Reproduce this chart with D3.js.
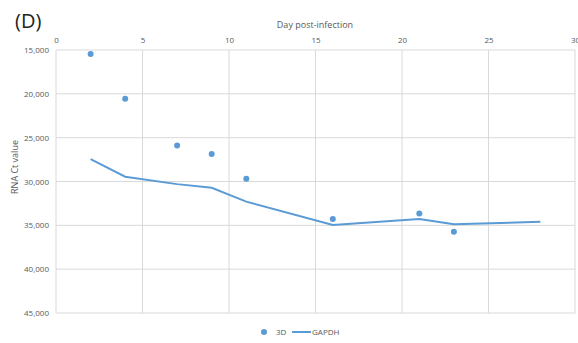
<!DOCTYPE html>
<html>
<head>
<meta charset="utf-8">
<script src="https://cdn.jsdelivr.net/npm/d3@7"></script>
<style>
  body { margin: 0; background: #fff; }
  text { font-family: "Open Sans", sans-serif; }
</style>
</head>
<body>
<div id="chart"></div>
<script>
/*
 * Data
 */
const days3D = [2, 4, 7, 9, 11, 16, 21, 23]
const ct3D = [15.45, 20.55, 25.9, 26.85, 29.7, 34.27, 33.66, 35.72]

const daysGAPDH = [2, 4, 7, 9, 11, 16, 21, 23, 28]
const ctGAPDH = [27.45, 29.45, 30.3, 30.72, 32.3, 34.97, 34.27, 34.88, 34.6]

const xTicks = [0, 5, 10, 15, 20, 25, 30]
const yTicks = [15, 20, 25, 30, 35, 40, 45]
const yTickLabels = ['15,000', '20,000', '25,000', '30,000', '35,000', '40,000', '45,000']

const w = 578
const h = 343
const blue = '#5b9bd5'
const grid = '#d9d9d9'
const tickColor = '#595959'

const svg = d3.select('#chart')
  .append('svg')
  .attr('width', w)
  .attr('height', h)

const x = d3.scaleLinear().domain([0, 30]).range([56, 575])
const y = d3.scaleLinear().domain([15, 45]).range([50, 313])

// gridlines
svg.append('g')
  .selectAll('line')
  .data(xTicks)
  .enter()
  .append('line')
  .attr('x1', d => x(d)).attr('x2', d => x(d))
  .attr('y1', y(15)).attr('y2', y(45))
  .style('stroke', grid)
  .style('stroke-width', 1)

svg.append('g')
  .selectAll('line')
  .data(yTicks)
  .enter()
  .append('line')
  .attr('x1', x(0)).attr('x2', x(30))
  .attr('y1', d => y(d)).attr('y2', d => y(d))
  .style('stroke', grid)
  .style('stroke-width', 1)

// axes labels
const xAxis = svg.append('g')
  .attr('transform', `translate(0,${y(15)})`)
  .call(d3.axisTop(x).tickValues(xTicks).tickSize(0).tickPadding(7))
xAxis.select('.domain').remove()
xAxis.selectAll('text')
  .style('font-size', '8px')
  .style('fill', tickColor)
  .style('font-family', '"Open Sans", sans-serif')

const yAxis = svg.append('g')
  .attr('transform', `translate(${x(0)},0)`)
  .call(d3.axisLeft(y).tickValues(yTicks).tickSize(0).tickPadding(7)
    .tickFormat((d, i) => yTickLabels[i]))
yAxis.select('.domain').remove()
yAxis.selectAll('text')
  .style('font-size', '8px')
  .style('fill', tickColor)
  .style('font-family', '"Open Sans", sans-serif')

// titles
svg.append('text')
  .attr('x', 15).attr('y', 28)
  .style('font-size', '20px')
  .style('fill', '#222')
  .text('(D)')

svg.append('text')
  .attr('x', 315).attr('y', 28)
  .attr('text-anchor', 'middle')
  .style('font-size', '9px')
  .style('fill', tickColor)
  .text('Day post-infection')

svg.append('text')
  .attr('transform', 'translate(18,167) rotate(-90)')
  .attr('text-anchor', 'middle')
  .style('font-size', '9px')
  .style('fill', tickColor)
  .text('RNA Ct value')

// GAPDH line
const gapdh = daysGAPDH.map((d, i) => ({ day: d, ct: ctGAPDH[i] }))
const line = d3.line().x(d => x(d.day)).y(d => y(d.ct))

svg.append('path')
  .datum(gapdh)
  .attr('d', line)
  .style('fill', 'none')
  .style('stroke', blue)
  .style('stroke-width', 2)

// 3D points
svg.append('g')
  .selectAll('circle')
  .data(days3D.map((d, i) => ({ day: d, ct: ct3D[i] })))
  .enter()
  .append('circle')
  .attr('cx', d => x(d.day))
  .attr('cy', d => y(d.ct))
  .attr('r', 3)
  .style('fill', blue)

// legend
const legend = svg.append('g').attr('transform', 'translate(0,332)')
legend.append('circle').attr('cx', 264).attr('cy', 0).attr('r', 3).style('fill', blue)
legend.append('text').attr('x', 276).attr('y', 3)
  .style('font-size', '8px').style('fill', tickColor).text('3D')
legend.append('line').attr('x1', 292).attr('x2', 311).attr('y1', 0).attr('y2', 0)
  .style('stroke', blue).style('stroke-width', 2)
legend.append('text').attr('x', 312).attr('y', 3)
  .style('font-size', '8px').style('fill', tickColor).text('GAPDH')
</script>
</body>
</html>
